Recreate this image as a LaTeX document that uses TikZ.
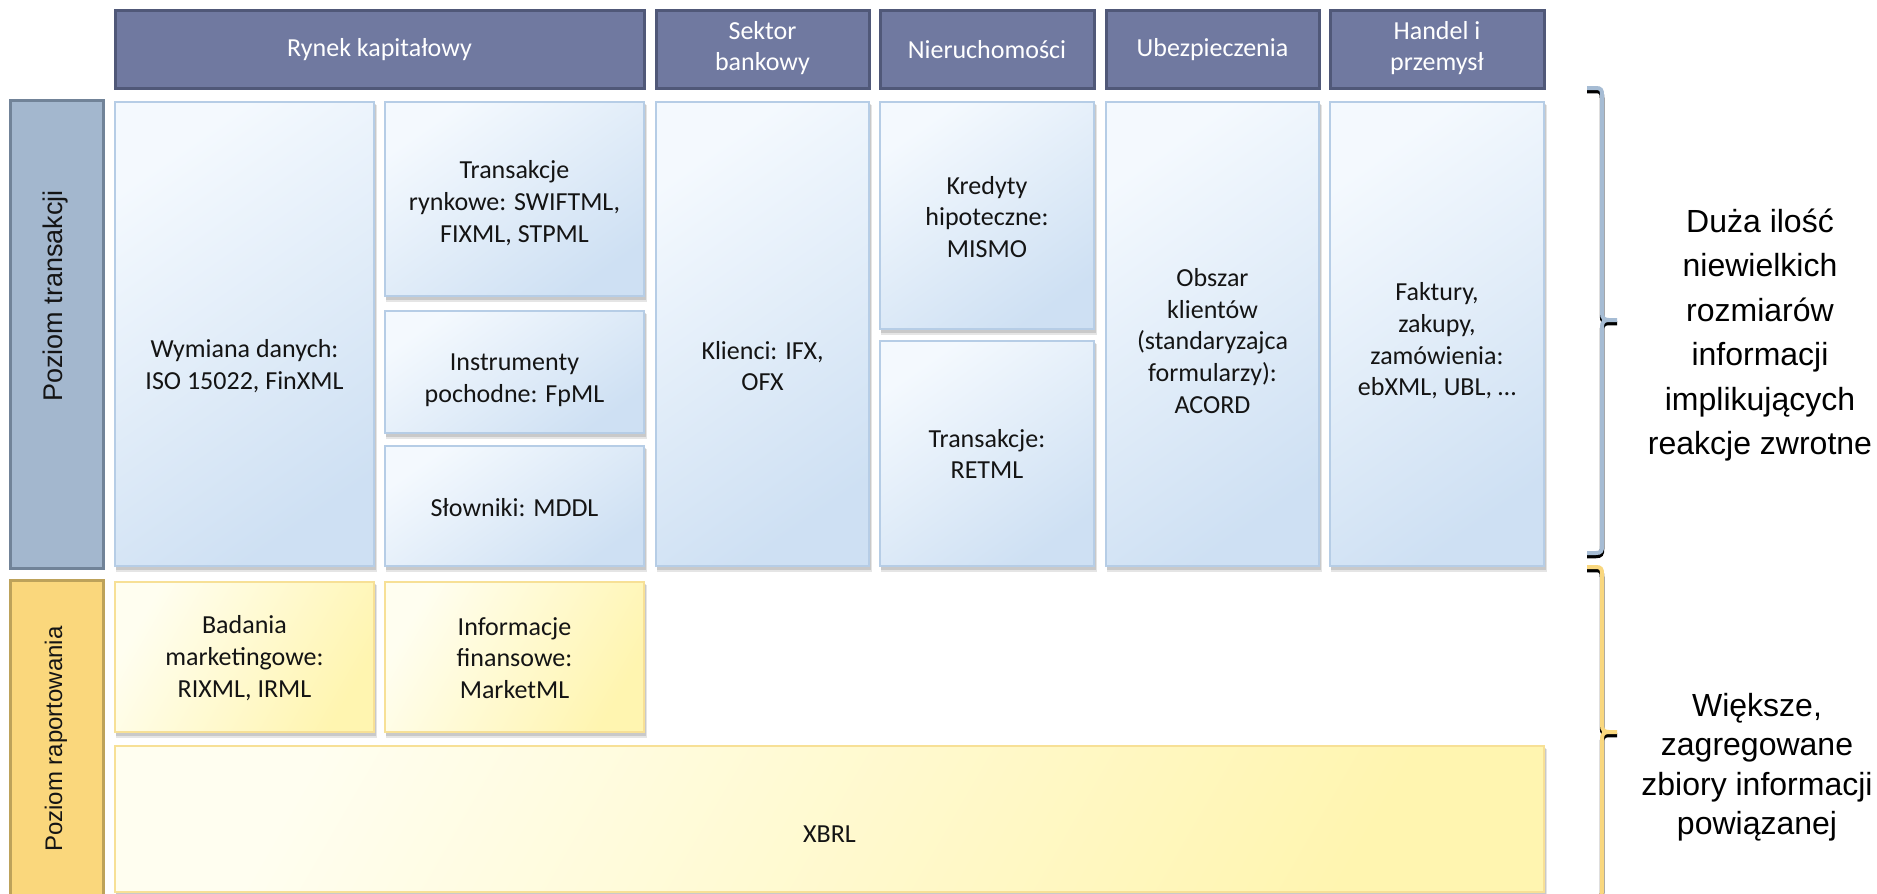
\documentclass[tikz,border=0pt]{standalone}
\usepackage{fontspec}
\setmainfont{Carlito}
\newfontfamily\arialf{Liberation Sans}
\definecolor{hdrfill}{RGB}{112,121,160}
\definecolor{hdrdraw}{RGB}{80,88,120}
\definecolor{bsidefill}{RGB}{163,183,206}
\definecolor{bsidedraw}{RGB}{113,131,152}
\definecolor{blight}{RGB}{244,249,254}
\definecolor{bdark}{RGB}{206,224,243}
\definecolor{bdraw}{RGB}{182,205,230}
\definecolor{ysidefill}{RGB}{250,215,124}
\definecolor{ysidedraw}{RGB}{189,162,90}
\definecolor{ylight}{RGB}{255,254,240}
\definecolor{ydark}{RGB}{255,245,176}
\definecolor{ydraw}{RGB}{247,224,150}
\definecolor{bbrace}{RGB}{166,188,212}
\definecolor{ybrace}{RGB}{249,215,126}
\definecolor{txtc}{RGB}{20,20,20}
\newcommand\mkblue[4]{%
  \fill[black,opacity=0.10] (#1+1,#2+3) rectangle (#3+3,#4+6);
  \fill[black,opacity=0.12] (#1+1,#2+2) rectangle (#3+2,#4+4);
  \path[bluebox] (#1,#2) rectangle (#3,#4);}
\newcommand\mkyellow[4]{%
  \fill[black,opacity=0.10] (#1+1,#2+3) rectangle (#3+3,#4+6);
  \fill[black,opacity=0.12] (#1+1,#2+2) rectangle (#3+2,#4+4);
  \path[yellowbox] (#1,#2) rectangle (#3,#4);}
\newcommand\mybrace[4]{%
  \draw[line width=4.5pt,black,yshift=-3pt] (1587,#1) -- (1596,#1) .. controls (1601,#1) and (1602,#1+2) .. (1602,#1+7) -- (1602,#2-7) .. controls (1602,#2-2) and (1604,#2) .. (1609,#2) -- (1617,#2) (1609,#2) .. controls (1604,#2) and (1602,#2+2) .. (1602,#2+7) -- (1602,#3-7) .. controls (1602,#3-2) and (1601,#3) .. (1596,#3) -- (1587,#3);
  \draw[line width=4pt,#4] (1587,#1) -- (1596,#1) .. controls (1601,#1) and (1602,#1+2) .. (1602,#1+7) -- (1602,#2-7) .. controls (1602,#2-2) and (1604,#2) .. (1609,#2) -- (1617,#2) (1609,#2) .. controls (1604,#2) and (1602,#2+2) .. (1602,#2+7) -- (1602,#3-7) .. controls (1602,#3-2) and (1601,#3) .. (1596,#3) -- (1587,#3);}
\begin{document}
\begin{tikzpicture}[x=1pt,y=-1pt,
  hdr/.style={fill=hdrfill,draw=hdrdraw,line width=3pt},
  bside/.style={fill=bsidefill,draw=bsidedraw,line width=3pt},
  yside/.style={fill=ysidefill,draw=ysidedraw,line width=3pt},
  bluebox/.style={draw=bdraw,line width=1.5pt,top color=blight,bottom color=bdark,shading angle=35},
  yellowbox/.style={draw=ydraw,line width=1.5pt,top color=ylight,bottom color=ydark,shading angle=60},
  htxt/.style={align=center,text=white,inner sep=0pt,font=\fontsize{26}{31.7}\selectfont},
  txt/.style={align=center,text=txtc,inner sep=0pt,font=\fontsize{26}{31.7}\selectfont},
  sidetxt/.style={rotate=90,text=txtc,inner sep=0pt,font=\arialf\fontsize{24}{28}\selectfont},
  rtxt/.style={align=center,text=black,inner sep=0pt,font=\arialf\fontsize{32}{39.5}\selectfont}]
\useasboundingbox (0,0) rectangle (1877,894);
\fill[white] (0,0) rectangle (1877,894);
% headers
\draw[hdr] (115,10) rectangle (644,88);
\node[htxt] (h1) at (379.5,50) {Rynek kapitałowy};
\draw[hdr] (656,10) rectangle (869,88);
\node[htxt] (h2) at (762.5,48) {Sektor\\bankowy};
\draw[hdr] (880,10) rectangle (1094,88);
\node[htxt] (h3) at (987,50) {Nieruchomości};
\draw[hdr] (1106,10) rectangle (1319,88);
\node[htxt] (h4) at (1212.5,50) {Ubezpieczenia};
\draw[hdr] (1330,10) rectangle (1544,88);
\node[htxt] (h5) at (1437,48) {Handel i\\przemysł};
% side bars
\draw[bside] (10,100) rectangle (103,568);
\node[sidetxt,font=\arialf\fontsize{27}{30}\selectfont] (s1) at (56,296) {Poziom transakcji};
\draw[yside] (10,580) rectangle (103,910);
\node[sidetxt] (s2) at (56,739) {Poziom raportowania};
% blue boxes
\mkblue{115}{102}{374}{566}
\node[txt] (b1) at (244.5,366) {Wymiana danych:\\ISO 15022, FinXML};
\mkblue{385}{102}{644}{296}
\node[txt] (b2) at (514.5,203) {Transakcje\\rynkowe: SWIFTML,\\FIXML, STPML};
\mkblue{385}{311}{644}{433}
\node[txt] (b3) at (514.5,380) {Instrumenty\\pochodne: FpML};
\mkblue{385}{446}{644}{566}
\node[txt] (b4) at (514.5,508) {Słowniki: MDDL};
\mkblue{656}{102}{869}{566}
\node[txt] (b5) at (762.5,366) {Klienci: IFX,\\OFX};
\mkblue{880}{102}{1094}{329}
\node[txt] (b6) at (987,217) {Kredyty\\hipoteczne:\\MISMO};
\mkblue{880}{341}{1094}{566}
\node[txt] (b7) at (987,454) {Transakcje:\\RETML};
\mkblue{1106}{102}{1319}{566}
\node[txt] (b8) at (1212.5,341) {Obszar\\klientów\\(standaryzajca\\formularzy):\\ACORD};
\mkblue{1330}{102}{1544}{566}
\node[txt] (b9) at (1437,341) {Faktury,\\zakupy,\\zamówienia:\\ebXML, UBL, …};
% yellow boxes
\mkyellow{115}{582}{374}{732}
\node[txt] (y1) at (244.5,658) {Badania\\marketingowe:\\RIXML, IRML};
\mkyellow{385}{582}{644}{732}
\node[txt] (y2) at (514.5,658) {Informacje\\finansowe:\\MarketML};
\mkyellow{115}{746}{1544}{892}
\node[txt] (y3) at (829.5,834) {XBRL};
% braces
\mybrace{88}{320}{553}{bbrace}
\mybrace{567}{732}{897}{ybrace}
\node[rtxt,font=\arialf\fontsize{32}{44.5}\selectfont] (r1) at (1760,335) {Duża ilość\\niewielkich\\rozmiarów\\informacji\\implikujących\\reakcje zwrotne};
\node[rtxt] (r2) at (1757,767) {Większe,\\zagregowane\\zbiory informacji\\powiązanej};
\end{tikzpicture}
\end{document}
